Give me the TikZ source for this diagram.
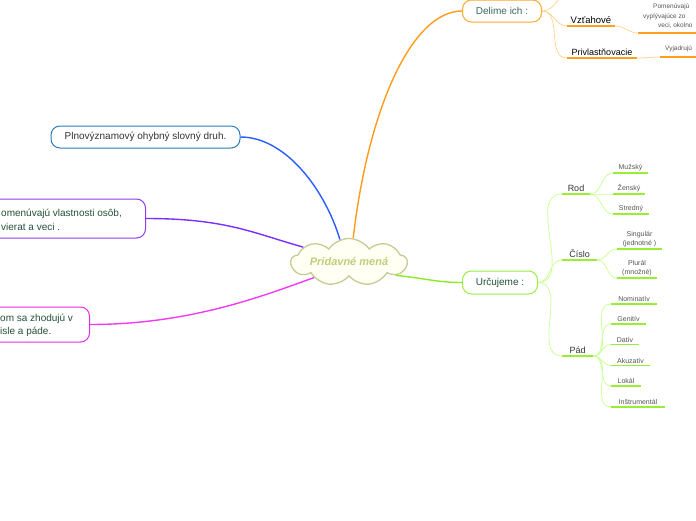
\documentclass[tikz,border=0pt]{standalone}
\usepackage{fontspec}
\setmainfont{Liberation Sans}
\usetikzlibrary{shapes.symbols}
\definecolor{cloudline}{HTML}{C5CC94}
\definecolor{cloudfill}{HTML}{FFFFF4}
\definecolor{cloudtext}{HTML}{BFCE7A}
\definecolor{bluebox}{HTML}{2B7CB8}
\definecolor{bluebranch}{HTML}{2A5CFF}
\definecolor{purplebox}{HTML}{8E3CF0}
\definecolor{purplebranch}{HTML}{7A2EFF}
\definecolor{magentabox}{HTML}{E62AE6}
\definecolor{magentabranch}{HTML}{F03CF0}
\definecolor{orangebox}{HTML}{FFAA2A}
\definecolor{orangebranch}{HTML}{FF9B1A}
\definecolor{orangeul}{HTML}{FFA11C}
\definecolor{orangelink}{HTML}{FFD699}
\definecolor{greenbox}{HTML}{99EE44}
\definecolor{greenbranch}{HTML}{88EE22}
\definecolor{greenul}{HTML}{99EE33}
\definecolor{greenlink}{HTML}{CCFF99}
\definecolor{dkgreen}{HTML}{24503C}
\definecolor{teal}{HTML}{3A6B5A}
\definecolor{txt}{HTML}{333333}
\definecolor{small}{HTML}{555555}
\begin{document}
\begin{tikzpicture}[x=1pt,y=-1pt,
  topic/.style={draw, rounded corners=9pt, line width=1pt, fill=white, inner sep=0pt},
  lbl/.style={anchor=south, inner xsep=0pt, inner ysep=2pt, align=center, text=txt},
  cat/.style={lbl, font=\fontsize{9}{11}\selectfont},
  leaf/.style={lbl, font=\fontsize{7}{8.5}\selectfont, text=small},
  gul/.style={draw=greenul, line width=1.6pt},
  glink/.style={draw=greenlink, line width=0.8pt},
  oul/.style={draw=orangeul, line width=1.6pt},
  olink/.style={draw=orangelink, line width=0.8pt},
  branch/.style={line width=1.4pt}
]
\useasboundingbox (0,0) rectangle (696,520);
\clip (0,0) rectangle (696,520);

% central cloud
\node[cloud, cloud puffs=9, cloud puff arc=110, aspect=3.8, draw=cloudline, fill=cloudfill, line width=1.3pt,
  minimum width=116pt, minimum height=30pt, inner sep=0pt,
  font=\bfseries\itshape\fontsize{11}{13}\selectfont, text=cloudtext] (root) at (349,262) {Pridavné mená};

% left topics
\node[topic, draw=bluebox, minimum width=189pt, minimum height=22pt,
  font=\fontsize{10}{12}\selectfont, text=txt] (def) at (145.5,137) {Plnovýznamový ohybný slovný druh.};

\node[topic, draw=purplebox, minimum width=180pt, minimum height=39pt, anchor=east] (vl) at (146,218.5) {};
\node[anchor=west, align=left, inner sep=0pt, font=\fontsize{10}{14}\selectfont, text=dkgreen] (vltext) at (1,220) {omenúvajú vlastnosti osôb,\\vierat a veci .};

\node[topic, draw=magentabox, minimum width=150pt, minimum height=35pt, anchor=east] (mag) at (90,324.5) {};
\node[anchor=west, align=left, inner sep=0pt, font=\fontsize{10}{13}\selectfont, text=dkgreen] (magtext) at (0,325.5) {om sa zhodujú v\\isle a páde.};

% right topics
\node[topic, draw=orangebox, minimum width=79pt, minimum height=22pt,
  font=\fontsize{10}{12}\selectfont, text=teal] (del) at (502,11) {Delime ich :};
\node[topic, draw=greenbox, minimum width=75pt, minimum height=23pt,
  font=\fontsize{10}{12}\selectfont, text=dkgreen] (urc) at (500,282.5) {Určujeme :};

% main branches
\draw[branch, draw=bluebranch] (def.east) .. controls +(45,0) and +(-15,-50) .. (root.112);
\draw[branch, draw=orangebranch] (root.80) .. controls +(15,-130) and +(-50,0) .. (del.west);
\draw[branch, draw=purplebranch] (vl.east) .. controls +(80,0) and +(-50,-14) .. (root.162);
\draw[branch, draw=magentabranch] (mag.east) .. controls +(100,0) and +(-50,18) .. (root.204);
\draw[branch, draw=greenbranch] (root.344) .. controls +(30,3) and +(-25,0) .. (urc.west);

% ---- orange sub-branches
\coordinate (delup) at (570,-10);
\draw[olink] (del.east) to[out=0,in=200] (delup);

\node[lbl, font=\fontsize{9.5}{11}\selectfont, text=black, minimum width=48pt] (vz) at (591,26) {Vzťahové};
\draw[oul] (vz.south west) -- (vz.south east);
\node[lbl, font=\fontsize{9}{11}\selectfont, text=black, minimum width=70pt] (pr) at (602,58) {Privlastňovacie};
\draw[oul] (pr.south west) -- (pr.south east);
\draw[olink] (del.east) to[out=0,in=180] (vz.south west);
\draw[olink] (del.east) to[out=0,in=180] (pr.south west);

\coordinate (vzd) at (638,33);
\coordinate (vzde) at (700,33);
\draw[olink] (vz.south east) to[out=0,in=180] (vzd);
\draw[oul] (vzd) -- (vzde);
\node[anchor=west, inner sep=0pt, font=\fontsize{6.5}{8}\selectfont, text=small] (vz1) at (653,7) {Pomenúvajú};
\node[anchor=west, inner sep=0pt, font=\fontsize{6.5}{8}\selectfont, text=small] (vz2) at (643,16.5) {vyplývajúce zo};
\node[anchor=west, inner sep=0pt, font=\fontsize{6.5}{8}\selectfont, text=small] (vz3) at (658,26) {veci, okolno};

\coordinate (prd) at (660,57);
\coordinate (prde) at (700,57);
\draw[olink] (pr.south east) to[out=0,in=180] (prd);
\draw[oul] (prd) -- (prde);
\node[anchor=west, inner sep=0pt, font=\fontsize{6.5}{8}\selectfont, text=small] (pr1) at (665,49) {Vyjadrujú};

% ---- green sub-branches
\node[cat, minimum width=28pt] (rod) at (576,194) {Rod};
\node[cat, minimum width=35pt] (cis) at (579.5,260) {Číslo};
\node[cat, minimum width=31pt] (pad) at (577.5,356) {Pád};
\foreach \n in {rod,cis,pad}{
  \draw[gul] (\n.south west) -- (\n.south east);
  \draw[glink] (urc.east) to[out=0,in=180] (\n.south west);
}

\node[leaf, minimum width=35pt] (muz) at (630.5,173) {Mužský};
\node[leaf, minimum width=32pt] (zen) at (629,194) {Ženský};
\node[leaf, minimum width=36pt] (str) at (631,214) {Stredný};
\foreach \n in {muz,zen,str}{
  \draw[gul] (\n.south west) -- (\n.south east);
  \draw[glink] (rod.south east) to[out=0,in=180] (\n.south west);
}

\node[leaf, minimum width=45pt] (sin) at (639.5,249) {Singulár\\(jednotné )};
\node[leaf, minimum width=40pt] (plu) at (637,278) {Plurál\\(množné)};
\foreach \n in {sin,plu}{
  \draw[gul] (\n.south west) -- (\n.south east);
  \draw[glink] (cis.south east) to[out=0,in=180] (\n.south west);
}

\node[leaf, minimum width=46pt] (nom) at (634,304) {Nominatív};
\node[leaf, minimum width=35pt] (gen) at (628.5,324) {Genitív};
\node[leaf, minimum width=28pt] (dat) at (625,344.5) {Datív};
\node[leaf, minimum width=39pt] (aku) at (630.5,365.5) {Akuzatív};
\node[leaf, minimum width=30pt] (lok) at (626,386) {Lokál};
\node[leaf, minimum width=54pt] (ins) at (638,407) {Inštrumentál};
\foreach \n in {nom,gen,dat,aku,lok,ins}{
  \draw[gul] (\n.south west) -- (\n.south east);
  \draw[glink] (pad.south east) to[out=0,in=180] (\n.south west);
}
\end{tikzpicture}
\end{document}
